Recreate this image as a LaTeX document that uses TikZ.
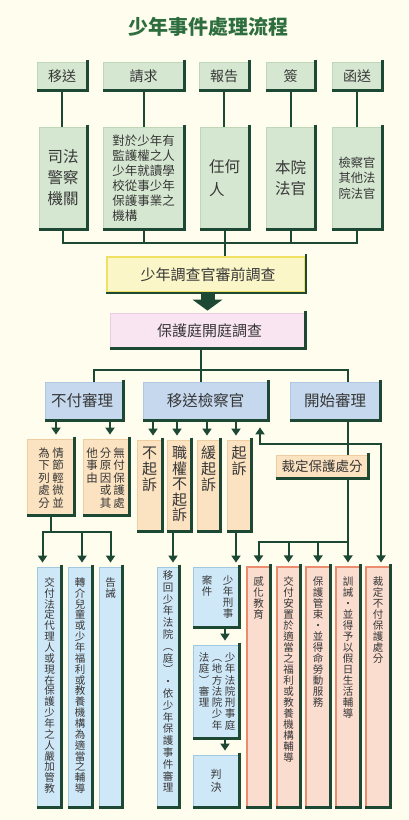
\documentclass[tikz,border=0pt]{standalone}
\usepackage{fontspec}
\setmainfont{Noto Sans CJK TC}
\usetikzlibrary{fit,arrows.meta}
\definecolor{bg}{RGB}{254,253,238}
\definecolor{dkg}{RGB}{28,72,52}
\definecolor{titleg}{RGB}{46,110,62}
\definecolor{grnfill}{RGB}{214,231,209}
\definecolor{grnedge}{RGB}{190,215,185}
\definecolor{yelfill}{RGB}{250,246,200}
\definecolor{yeledge}{RGB}{240,225,100}
\definecolor{pinkfill}{RGB}{249,228,241}
\definecolor{pinkedge}{RGB}{235,205,225}
\definecolor{bluefill}{RGB}{197,216,238}
\definecolor{blueedge}{RGB}{175,198,228}
\definecolor{orfill}{RGB}{251,226,192}
\definecolor{oredge}{RGB}{238,205,160}
\definecolor{lbfill}{RGB}{207,232,248}
\definecolor{lbedge}{RGB}{160,200,225}
\definecolor{salfill}{RGB}{251,221,208}
\definecolor{saledge}{RGB}{235,140,110}
\definecolor{txt}{RGB}{55,55,55}
\newcommand\fsz[2]{\fontsize{#1}{#2}\selectfont}
% fixed glyph metrics: height .88em, depth .12em
\newcommand\fhd[1]{\setbox0=\hbox{#1}\ht0=0.88em\dp0=0.12em\box0}
% left-aligned stacked lines
\newcommand\mlv[2]{\vbox{\baselineskip=#1\relax\lineskiplimit=-50pt\lineskip=0pt #2}}
\makeatletter
\newcommand\vcol[2]{\vtop{\baselineskip=#1\relax\lineskiplimit=-50pt\lineskip=0pt\@tfor\vc@t:=#2\do{\setbox0=\hbox to 1em{\hss\vc@t\hss}\ht0=0.88em\dp0=0.12em\box0}}}
\makeatother
\begin{document}
\begin{tikzpicture}[x=1pt,y=-1pt,
  bx/.style={inner sep=0pt, line width=0.8pt},
  gbox/.style={bx, fill=grnfill, draw=grnedge},
  ybox/.style={bx, fill=yelfill, draw=yeledge, line width=1.6pt},
  pbox/.style={bx, fill=pinkfill, draw=pinkedge},
  bbox/.style={bx, fill=bluefill, draw=blueedge},
  obox/.style={bx, fill=orfill, draw=oredge},
  lbox/.style={bx, fill=lbfill, draw=lbedge},
  sbox/.style={bx, fill=salfill, draw=saledge, line width=1.1pt},
  tx/.style={inner sep=0pt, text=txt},
  vt/.style={inner sep=0pt, anchor=north, text=txt},
  conn/.style={draw=dkg, line width=2pt},
  arr/.style={conn, -{Triangle[width=9pt,length=7pt]}, shorten >=4pt},
  arr2/.style={conn, {Triangle[width=9pt,length=7pt]}-{Triangle[width=9pt,length=7pt]}, shorten >=4pt, shorten <=7pt},
  shl/.style={draw=dkg, line width=2.4pt, line join=miter}
]
\useasboundingbox[fill=bg] (0,0) rectangle (408,820);

% title
\node[text=titleg, inner sep=0pt, font={\fsz{20}{22}\bfseries}] (title) at (208,27) {\fhd{少年事件處理流程}};

% row 1
\node[gbox, fit={(37,62) (87,90)}] (a1) {};
\node[gbox, fit={(103,62) (184,90)}] (a2) {};
\node[gbox, fit={(199,62) (249,90)}] (a3) {};
\node[gbox, fit={(266,62) (315,90)}] (a4) {};
\node[gbox, fit={(332,62) (382,90)}] (a5) {};
\node[tx, font={\fsz{14}{16}}] (a1t) at (a1) {\fhd{移送}};
\node[tx, font={\fsz{14}{16}}] (a2t) at (a2) {\fhd{請求}};
\node[tx, font={\fsz{14}{16}}] (a3t) at (a3) {\fhd{報告}};
\node[tx, font={\fsz{14}{16}}] (a4t) at (a4) {\fhd{簽}};
\node[tx, font={\fsz{14}{16}}] (a5t) at (a5) {\fhd{函送}};

% row 2
\node[gbox, fit={(39,127) (87,229)}] (b1) {};
\node[gbox, fit={(103,127) (184,229)}] (b2) {};
\node[gbox, fit={(200,127) (249,229)}] (b3) {};
\node[gbox, fit={(266,127) (315,229)}] (b4) {};
\node[gbox, fit={(332,127) (382,229)}] (b5) {};
\node[tx, font={\fsz{15.5}{21}}] (b1t) at (b1) {\mlv{21pt}{\fhd{司法}\fhd{警察}\fhd{機關}}};
\node[tx, font={\fsz{12.5}{15}}] (b2t) at (b2) {\mlv{15pt}{\fhd{對於少年有}\fhd{監護權之人}\fhd{少年就讀學}\fhd{校從事少年}\fhd{保護事業之}\fhd{機構}}};
\node[tx, font={\fsz{15.5}{23}}] (b3t) at (b3) {\mlv{23pt}{\fhd{任何}\fhd{人}}};
\node[tx, font={\fsz{15.5}{21}}] (b4t) at (b4) {\mlv{21pt}{\fhd{本院}\fhd{法官}}};
\node[tx, font={\fsz{12.3}{15.5}}] (b5t) at (b5) {\mlv{15.5pt}{\fhd{檢察官}\fhd{其他法}\fhd{院法官}}};

% yellow & pink
\node[ybox, fit={(107,257) (305,292)}] (c1) {};
\node[pbox, fit={(110,313) (305,348)}] (c2) {};
\node[tx, font={\fsz{15}{17}}] (c1t) at ([xshift=2pt]c1.center) {\fhd{少年調查官審前調查}};
\node[tx, font={\fsz{15}{17}}] (c2t) at ([xshift=2pt]c2.center) {\fhd{保護庭開庭調查}};

% row 3
\node[bbox, fit={(45,382) (123,420)}] (d1) {};
\node[bbox, fit={(143,382) (268,420)}] (d2) {};
\node[bbox, fit={(290,382) (380,420)}] (d3) {};
\node[tx, font={\fsz{15.5}{17}}] (d1t) at ([xshift=-2pt]d1.center) {\fhd{不付審理}};
\node[tx, font={\fsz{15.5}{17}}] (d2t) at (d2) {\fhd{移送檢察官}};
\node[tx, font={\fsz{15.5}{17}}] (d3t) at (d3) {\fhd{開始審理}};

% row 4 (orange)
\node[obox, fit={(27,439) (74,515)}] (e1) {};
\node[obox, fit={(83,439) (129,515)}] (e2) {};
\node[obox, fit={(137,440) (162,531)}] (e3) {};
\node[obox, fit={(167,440) (191,531)}] (e4) {};
\node[obox, fit={(197,440) (220,531)}] (e5) {};
\node[obox, fit={(227,440) (251,531)}] (e6) {};
\node[obox, fit={(276,455) (368,478)}] (e7) {};
\node[tx, font={\fsz{13.5}{15}}] (e7t) at (e7) {\fhd{裁定保護處分}};

\node[vt, font={\fsz{11.5}{12.5}}] (te1) at (51,447) {\hbox{\vcol{12.5pt}{為下列處分}\hskip2.5pt\vcol{12.5pt}{情節輕微並}}};
\node[vt, font={\fsz{11.5}{12.5}}] (te2) at (105.5,447) {\hbox{\vcol{12.5pt}{他事由}\hskip2pt\vcol{12.5pt}{分原因或其}\hskip2pt\vcol{12.5pt}{無付保護處}}};
\node[vt, font={\fsz{15}{16}}] (te3) at (149.5,445.5) {\vcol{16pt}{不起訴}};
\node[vt, font={\fsz{15}{16}}] (te4) at (179.5,445.5) {\vcol{15.5pt}{職權不起訴}};
\node[vt, font={\fsz{15}{16}}] (te5) at (208.5,445.5) {\vcol{16pt}{緩起訴}};
\node[vt, font={\fsz{15}{16}}] (te6) at (239,445.5) {\vcol{16pt}{起訴}};

% bottom row (light blue)
\node[lbox, fit={(37,567) (61,807)}] (f1) {};
\node[lbox, fit={(68,567) (92,807)}] (f2) {};
\node[lbox, fit={(99,567) (122,807)}] (f3) {};
\node[lbox, fit={(157,567) (179,807)}] (f4) {};
\node[lbox, fit={(193,567) (239,627)}] (h1) {};
\node[lbox, fit={(193,645) (239,738)}] (h2) {};
\node[lbox, fit={(193,755) (239,807)}] (h3) {};
\node[tx, font={\fsz{11}{13}}] (h3t) at (h3) {\vbox{\vcol{13pt}{判決}}};

\node[vt, font={\fsz{10.5}{11}}] (tf1) at (49.5,577) {\vcol{10.85pt}{交付法定代理人或現在保護少年之人嚴加管教}};
\node[vt, font={\fsz{10.5}{11}}] (tf2) at (80,577) {\vcol{10.85pt}{轉介兒童或少年福利或教養機構為適當之輔導}};
\node[vt, font={\fsz{10.5}{11}}] (tf3) at (110.5,577) {\vcol{10.85pt}{告誡}};
\node[vt, font={\fsz{10.5}{11}}] (tf4) at (168,570) {\vcol{11.8pt}{移回少年法院︵庭︶・依少年保護事件審理}};
\node[vt, font={\fsz{10.5}{11}}] (th1) at (217.5,575) {\hbox{\vcol{11pt}{案件}\hskip10.5pt\vcol{11pt}{少年刑事}}};
\node[vt, font={\fsz{10.5}{11}}] (th2) at (217,652) {\hbox{\vcol{11.3pt}{法庭︶審理}\hskip2.5pt\vcol{11.3pt}{︵地方法院少年}\hskip2.5pt\vcol{11.3pt}{少年法院刑事庭}}};

% bottom row (salmon)
\node[sbox, fit={(247,567) (270,807)}] (g1) {};
\node[sbox, fit={(277,567) (300,807)}] (g2) {};
\node[sbox, fit={(306,567) (330,807)}] (g3) {};
\node[sbox, fit={(336,567) (360,807)}] (g4) {};
\node[sbox, fit={(366,567) (390,807)}] (g5) {};

\node[vt, font={\fsz{10.5}{11}}] (tg1) at (258.5,576) {\vcol{11pt}{感化教育}};
\node[vt, font={\fsz{10.5}{11}}] (tg2) at (288.5,576) {\vcol{11pt}{交付安置於適當之福利或教養機構輔導}};
\node[vt, font={\fsz{10.5}{11}}] (tg3) at (318,576) {\vcol{11pt}{保護管束・並得命勞動服務}};
\node[vt, font={\fsz{10.5}{11}}] (tg4) at (348,576) {\vcol{11pt}{訓誡・並得予以假日生活輔導}};
\node[vt, font={\fsz{10.5}{11}}] (tg5) at (378,576) {\vcol{11pt}{裁定不付保護處分}};

% shadows
\foreach \n in {a1,a2,a3,a4,a5,b1,b2,b3,b4,b5,c1,c2,d1,d2,d3,e1,e2,e3,e4,e5,e6,e7,f1,f2,f3,f4,h1,h2,h3,g1,g2,g3,g4,g5}
  \draw[shl] ([yshift=2pt]\n.north east) -- (\n.south east) -- (\n.south west);

% connectors row1 -> row2
\foreach \i in {1,...,5} \draw[conn] (a\i.south) -- (a\i.south |- b\i.north);

% row2 -> yellow
\coordinate (hb) at (0,243);
\draw[conn] (b1.south) |- (hb -| b5.south) -- (b5.south);
\draw[conn] (b2.south) -- (b2.south |- hb);
\draw[conn] (b4.south) -- (b4.south |- hb);
\draw[conn] (b3.south) -- (b3.south |- c1.north);

% big arrow yellow -> pink
\fill[dkg] ([xshift=-7pt]c1.south -| c2.north) rectangle ([xshift=7pt,yshift=12pt]c2.north);
\fill[dkg] ([yshift=2pt]c2.north) -- ([xshift=-15pt,yshift=13pt]c2.north) -- ([xshift=15pt,yshift=13pt]c2.north) -- cycle;

% pink -> row 3
\coordinate (j1) at (94,370);
\coordinate (j3) at (348,370);
\draw[conn] (j1 |- d1.north) -- (j1) -- (j3) -- (j3 |- d3.north);
\draw[conn] ([xshift=-7pt]c2.south) -- ([xshift=-7pt]c2.south |- d2.north);

% d1 -> e1, e2
\draw[arr] ([xshift=5.5pt]e1.north |- d1.south) -- ([xshift=5.5pt]e1.north);
\draw[arr] ([xshift=4pt]e2.north |- d1.south) -- ([xshift=4pt]e2.north);

% d2 -> e3..e6
\draw[arr] ([xshift=3.5pt]e3.north |- d2.south) -- ([xshift=3.5pt]e3.north);
\draw[arr] ([xshift=-2pt]e4.north |- d2.south) -- ([xshift=-2pt]e4.north);
\draw[arr] ([xshift=-1.5pt]e5.north |- d2.south) -- ([xshift=-1.5pt]e5.north);
\draw[arr] ([xshift=-3pt]e6.north |- d2.south) -- ([xshift=-3pt]e6.north);

% return line: up to d2, down to g5
\coordinate (r1) at (260,444);
\coordinate (r2) at (381,444);
\draw[arr2] (r1 |- d2.south) -- (r1) -- (r2) -- (r2 |- g5.north);

% d3 -> e7 -> g1..g4
\draw[conn] (j3 |- d3.south) -- (j3 |- e7.north);
\coordinate (k) at (348,542);
\draw[arr] (k |- e7.south) -- (k |- g4.north);
\draw[arr] (k) -| (g1.north);
\draw[arr] (k -| g2.north) -- (g2.north);
\draw[arr] (k -| g3.north) -- (g3.north);

% e1 -> f1..f3
\coordinate (m) at (0,532);
\draw[conn] (e1.south) -- (e1.south |- m);
\draw[arr] (e1.south |- m) -| ([xshift=-6.5pt]f1.north);
\draw[arr] (e1.south |- m) -| (f3.north);
\draw[arr] ([xshift=2pt]f2.north |- m) -- ([xshift=2pt]f2.north);

% e4 -> f4, e6 -> h1 -> h2 -> h3
\draw[arr] ([xshift=-6pt]e4.south) -- ([xshift=-6pt]e4.south |- f4.north);
\draw[arr] ([xshift=-3pt]e6.south) -- ([xshift=-3pt]e6.south |- h1.north);
\draw[arr] ([xshift=9pt]h1.south) -- ([xshift=9pt]h2.north);
\draw[arr] ([xshift=9pt]h2.south) -- ([xshift=9pt]h3.north);
\end{tikzpicture}
\end{document}
